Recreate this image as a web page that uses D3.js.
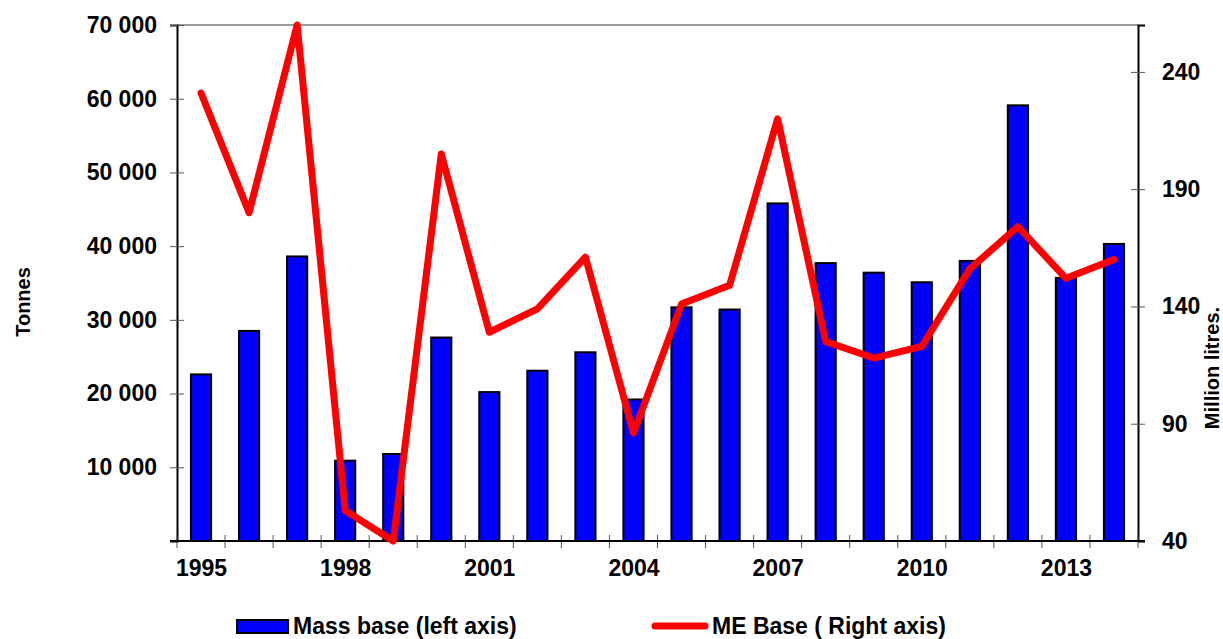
<!DOCTYPE html>
<html>
<head>
<meta charset="utf-8">
<script src="https://cdn.jsdelivr.net/npm/d3@7"></script>
<style>
  body { margin: 0; background: #fff; }
  svg { display: block; font-family: "Liberation Sans", Arial, sans-serif; font-weight: bold; }
</style>
</head>
<body>
<div id="chart"></div>
<script>
// données
const years = [1995, 1996, 1997, 1998, 1999, 2000, 2001, 2002, 2003, 2004,
               2005, 2006, 2007, 2008, 2009, 2010, 2011, 2012, 2013, 2014];
const massBase = [22600, 28500, 38600, 10900, 11800, 27600, 20200, 23100, 25600, 19200,
                  31700, 31400, 45800, 37700, 36400, 35100, 38000, 59100, 35700, 40300];
const meBase = [231, 180, 260, 53, 40, 205, 129, 139, 161, 86,
                141, 149, 220, 125, 118, 123, 156, 174, 152, 160];
const yearLabels = [1995, 1998, 2001, 2004, 2007, 2010, 2013];
const leftTicks = [10000, 20000, 30000, 40000, 50000, 60000, 70000];
const rightTicks = [40, 90, 140, 190, 240];

const width = 1223, height = 639;
const x0 = 177, x1 = 1138, yTop = 25, yBot = 541;

const svg = d3.select("#chart").append("svg")
    .attr("width", width)
    .attr("height", height);

// échelles
const xCat = d3.scaleBand().domain(years).range([x0, x1]).padding(0);
const xBar = d3.scaleBand().domain(years).range([x0, x1])
    .paddingInner(0.58).paddingOuter(0.29);
const xPt = d3.scalePoint().domain(years).range([x0, x1]).padding(0.5);
const yL = d3.scaleLinear().domain([0, 70000]).range([yBot, yTop]);
const yR = d3.scaleLinear().domain([40, 260]).range([yBot, yTop]);

// bord supérieur gris
svg.append("line")
    .attr("x1", x0).attr("x2", x1).attr("y1", yTop).attr("y2", yTop)
    .attr("stroke", "#999").attr("stroke-width", 2);

// barres
svg.selectAll("rect.bar")
    .data(years)
    .enter()
    .append("rect")
    .attr("class", "bar")
    .attr("x", d => xBar(d))
    .attr("y", (d, i) => yL(massBase[i]))
    .attr("width", xBar.bandwidth())
    .attr("height", (d, i) => yBot - yL(massBase[i]))
    .attr("fill", "#0000ff")
    .attr("stroke", "#000")
    .attr("stroke-width", 2);

// axe gauche
const fmt = d => d3.format(",")(d).replace(/,/g, " ");
const gL = svg.append("g")
    .attr("transform", `translate(${x0},0)`)
    .call(d3.axisLeft(yL).tickValues(leftTicks).tickFormat(fmt).tickSize(7).tickPadding(13));
gL.selectAll(".tick line").attr("x1", 7).attr("stroke", "#555");
gL.select(".domain").attr("stroke", "#000").attr("stroke-width", 2);
gL.selectAll("text").attr("font-size", 23).attr("font-family", null).attr("fill", "#000");

// axe droit
const gR = svg.append("g")
    .attr("transform", `translate(${x1},0)`)
    .call(d3.axisRight(yR).tickValues(rightTicks).tickSize(7).tickPadding(17));
gR.selectAll(".tick line").attr("x1", -7).attr("stroke", "#555");
gR.select(".domain").attr("stroke", "#000").attr("stroke-width", 2);
gR.selectAll("text").attr("font-size", 23).attr("font-family", null).attr("fill", "#000");

// axe du bas : graduations entre les catégories
const gB = svg.append("g");
gB.selectAll("line.tk")
    .data(years.concat(["end"]))
    .enter()
    .append("line")
    .attr("class", "tk")
    .attr("x1", d => d === "end" ? x1 : xCat(d))
    .attr("x2", d => d === "end" ? x1 : xCat(d))
    .attr("y1", yBot - 6).attr("y2", yBot + 7)
    .attr("stroke", "#555");
gB.append("line")
    .attr("x1", x0 - 7).attr("x2", x1 + 7).attr("y1", yBot).attr("y2", yBot)
    .attr("stroke", "#000").attr("stroke-width", 2);
const gX = svg.append("g")
    .attr("transform", `translate(0,${yBot})`)
    .call(d3.axisBottom(xPt).tickValues(yearLabels).tickSize(0).tickPadding(19));
gX.select(".domain").remove();
gX.selectAll("text").attr("font-size", 23).attr("font-family", null).attr("fill", "#000");

// ligne ME
const line = d3.line()
    .x((d, i) => xPt(years[i]))
    .y(d => yR(d));
svg.append("path")
    .datum(meBase)
    .attr("d", line)
    .attr("fill", "none")
    .attr("stroke", "#ff0000")
    .attr("stroke-width", 7)
    .attr("stroke-linejoin", "round")
    .attr("stroke-linecap", "round");

// titres des axes
svg.append("text")
    .attr("transform", "translate(30,302) rotate(-90)")
    .attr("text-anchor", "middle")
    .attr("font-size", 20)
    .text("Tonnes");
svg.append("text")
    .attr("transform", "translate(1219,368) rotate(-90)")
    .attr("text-anchor", "middle")
    .attr("font-size", 20)
    .text("Million litres.");

// légende
svg.append("rect")
    .attr("x", 237).attr("y", 620).attr("width", 51).attr("height", 13)
    .attr("fill", "#0000ff").attr("stroke", "#000").attr("stroke-width", 2);
svg.append("text")
    .attr("x", 293).attr("y", 634)
    .attr("font-size", 23)
    .text("Mass base (left axis)");
svg.append("line")
    .attr("x1", 655).attr("x2", 705).attr("y1", 626).attr("y2", 626)
    .attr("stroke", "#ff0000").attr("stroke-width", 7).attr("stroke-linecap", "round");
svg.append("text")
    .attr("x", 712).attr("y", 634)
    .attr("font-size", 23)
    .text("ME Base ( Right axis)");
</script>
</body>
</html>
